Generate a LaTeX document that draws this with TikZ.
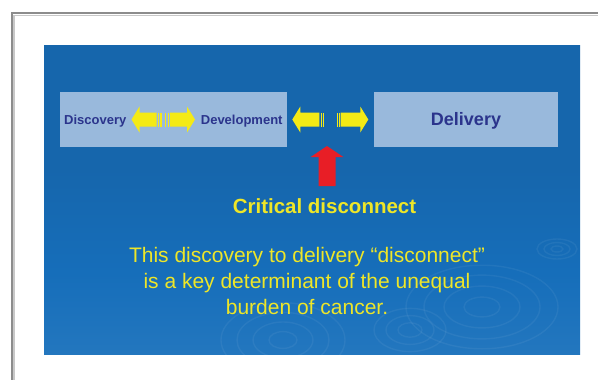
\documentclass[tikz,border=0pt]{standalone}
\usepackage{fontspec}
\setmainfont{Liberation Sans}
\definecolor{frameg}{RGB}{140,140,140}
\definecolor{frameh}{RGB}{200,200,200}
\definecolor{ptop}{RGB}{22,102,172}
\definecolor{pmid}{RGB}{22,110,186}
\definecolor{pbot}{RGB}{60,135,199}
\definecolor{boxfill}{RGB}{153,185,220}
\definecolor{navy}{RGB}{43,52,140}
\definecolor{arrowyel}{RGB}{244,234,22}
\definecolor{textyel}{RGB}{238,230,40}
\definecolor{alertred}{RGB}{232,30,38}
\pgfdeclareverticalshading{panelbg}{100bp}{color(0bp)=(pbot); color(38bp)=(pmid); color(55bp)=(ptop); color(100bp)=(ptop)}
\tikzset{
  stagebox/.style={fill=boxfill, draw=none},
  stagelabel/.style={text=navy, font=\bfseries\fontsize{13}{15}\selectfont, inner sep=0pt, anchor=base west},
  yelarrow/.style={fill=arrowyel, draw=none},
  ripple/.style={draw=white, draw opacity=0.055, line width=1.4pt},
}
\begin{document}
\begin{tikzpicture}[x=1pt,y=-1pt]
\useasboundingbox (0,0) rectangle (598,380);
\fill[white] (0,0) rectangle (598,380);

% window frame
\draw[frameh, line width=1.2pt] (14,380) -- (14,15.6) -- (598,15.6);
\draw[frameg, line width=1.8pt] (12,380) -- (12,13.2) -- (598,13.2);

% slide panel with water ripples
\path[shading=panelbg] (44,45) rectangle (580,354);
\begin{scope}
  \clip (44,45) rectangle (580,354);
  \foreach \r in {6,13,20} \draw[ripple] (557,249) ellipse ({\r} and {0.5*\r});
  \foreach \r in {18,38,58,76} \draw[ripple] (482,307) ellipse ({\r} and {0.55*\r});
  \foreach \r in {12,24,36} \draw[ripple] (410,330) ellipse ({\r} and {0.6*\r});
  \foreach \r in {14,30,46,62} \draw[ripple] (283,340) ellipse ({\r} and {0.6*\r});
\end{scope}

% stage boxes
\path[stagebox] (60,92) rectangle (286.5,147);
\path[stagebox] (374,92) rectangle (558,147);
\node[stagelabel] (disc) at (64,124.3) {Discovery};
\node[stagelabel] (dev) at (200.7,124.3) {Development};
\node[text=navy, font=\bfseries\fontsize{18}{21}\selectfont, inner sep=0pt, anchor=base] (deliv) at (466,125.5) {Delivery};

% yellow double arrows with fading inner ends
\path[yelarrow] (131.5,119.5) -- (139.5,106.5) -- (139.5,112.5) -- (156.5,112.5) -- (156.5,126.5) -- (139.5,126.5) -- (139.5,132.5) -- cycle;
\foreach \xa in {157.8,160.4} \path[yelarrow] (\xa,112.5) rectangle ++(1.1,14);
\foreach \xa in {165.0,167.6} \path[yelarrow] (\xa,112.5) rectangle ++(1.1,14);
\path[yelarrow] (195,119.5) -- (187,106.5) -- (187,112.5) -- (170,112.5) -- (170,126.5) -- (187,126.5) -- (187,132.5) -- cycle;

\path[yelarrow] (292.3,119.5) -- (300.3,106.5) -- (300.3,112.5) -- (319.3,112.5) -- (319.3,126.5) -- (300.3,126.5) -- (300.3,132.5) -- cycle;
\foreach \xa in {320.6,322.9} \path[yelarrow] (\xa,112.5) rectangle ++(1.0,14);
\foreach \xa in {336.8,338.8} \path[yelarrow] (\xa,112.5) rectangle ++(1.0,14);
\path[yelarrow] (368.3,119.5) -- (360.3,106.5) -- (360.3,112.5) -- (340.7,112.5) -- (340.7,126.5) -- (360.3,126.5) -- (360.3,132.5) -- cycle;

% red pointer
\fill[alertred] (327,146) -- (343.3,157) -- (335.5,157) -- (335.5,186) -- (318.5,186) -- (318.5,157) -- (310.7,157) -- cycle;

% captions
\node[text=textyel, font=\bfseries\fontsize{20.5}{24}\selectfont, inner sep=0pt, anchor=base] (crit) at (324.5,213.3) {Critical disconnect};
\node[text=textyel, font=\fontsize{21}{26}\selectfont, inner sep=0pt, align=center, anchor=base] (body) at (307,314) {This discovery to delivery “disconnect”\\is a key determinant of the unequal\\burden of cancer.};
\end{tikzpicture}
\end{document}
